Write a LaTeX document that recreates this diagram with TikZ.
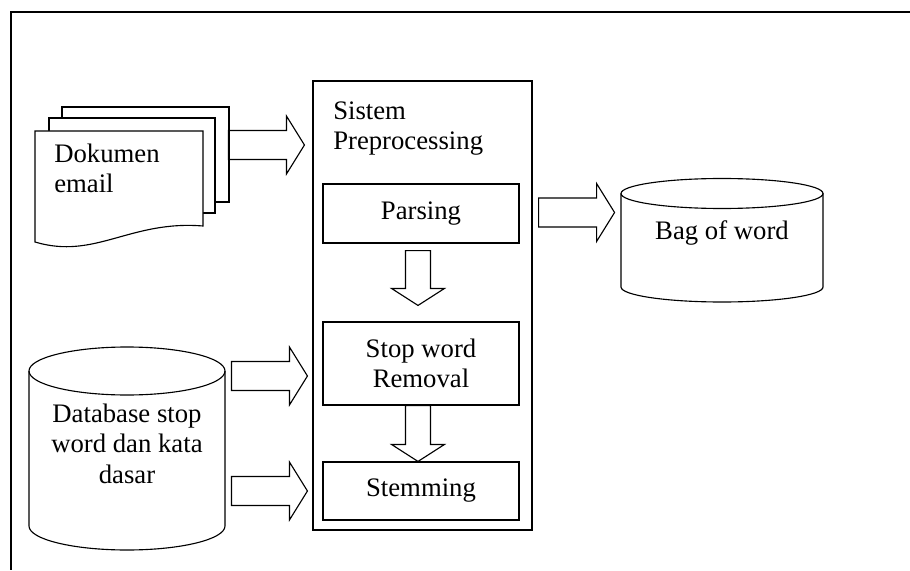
\documentclass[tikz,border=0pt]{standalone}
\usepackage{fontspec}
\setmainfont{Liberation Serif}
\usetikzlibrary{calc, positioning}

\tikzset{
  procbox/.style={draw, line width=0.8pt, minimum width=4.9cm, inner sep=0pt},
  sheet/.style={draw, fill=white, line width=0.8pt, minimum width=4.15cm, minimum height=2.375cm, inner sep=0pt},
  cyl/.style={draw, line width=0.8pt},
  % 空心箭头（水平）
  harrow/.style={to path={
    ([shift={(0,0.3625)}]\tikztostart) -- ([shift={(-0.45,0.3625)}]\tikztotarget)
    -- ([shift={(-0.45,0.725)}]\tikztotarget) -- (\tikztotarget)
    -- ([shift={(-0.45,-0.725)}]\tikztotarget) -- ([shift={(-0.45,-0.3625)}]\tikztotarget)
    -- ([shift={(0,-0.3625)}]\tikztostart) -- cycle}},
  % 空心箭头（竖直向下）
  varrow/.style={to path={
    ([shift={(-0.3125,0)}]\tikztostart) -- ([shift={(-0.3125,0.425)}]\tikztotarget)
    -- ([shift={(-0.6625,0.425)}]\tikztotarget) -- (\tikztotarget)
    -- ([shift={(0.6625,0.425)}]\tikztotarget) -- ([shift={(0.3125,0.425)}]\tikztotarget)
    -- ([shift={(0.3125,0)}]\tikztostart) -- cycle}}
}

\begin{document}
\begin{tikzpicture}[every node/.style={font=\fontsize{19}{21.5}\selectfont}]
  \useasboundingbox (0,0) rectangle (22.75,14.25);

  % 外框（只有上边和左边）
  \draw[line width=0.9pt] (22.75,13.95) -- (0.275,13.95) -- (0.275,0);

  % 文档堆叠
  \node[sheet, minimum width=4.175cm] (docback) at (3.6375,10.3875) {};
  \node[sheet] (docmid) at (3.3,10.1125) {};
  \draw[line width=0.8pt, fill=white] (0.875,10.975) -- (5.075,10.975) -- (5.075,8.6)
    .. controls (3.25,8.75) and (2.375,7.75) .. (0.875,8.2) -- cycle;
  \node[anchor=base west, align=left, inner sep=0pt] (doc) at (1.35,9.425) {Dokumen\\email};

  % 数据库
  \draw[cyl, fill=white] (0.725,4.975) -- (0.725,1.1)
    arc[start angle=180, end angle=360, x radius=2.45, y radius=0.6] -- (5.625,4.975);
  \draw[cyl] (3.175,4.975) ellipse[x radius=2.45, y radius=0.6];
  \node[anchor=base, align=center, inner sep=0pt] (db) at (3.175,2.175) {Database stop\\word dan kata\\dasar};

  % 预处理系统
  \node[draw, line width=0.8pt, minimum width=5.475cm, minimum height=11.225cm, inner sep=0pt] (sys) at (10.5625,6.6125) {};
  \node[anchor=base west, align=left, inner sep=0pt] (systitle) at (8.325,10.5) {Sistem\\Preprocessing};
  \node[procbox, minimum height=1.475cm] (parsing) at (10.525,8.9125) {Parsing};
  \node[procbox, minimum height=2.075cm, align=center] (stopword) at (10.525,5.1625) {Stop word\\Removal};
  \node[procbox, minimum height=1.45cm] (stemming) at (10.525,1.975) {Stemming};

  % Bag of word
  \draw[cyl] (15.525,9.4125) -- (15.525,7.075)
    arc[start angle=180, end angle=360, x radius=2.525, y radius=0.375] -- (20.575,9.4125);
  \draw[cyl] (18.05,9.4125) ellipse[x radius=2.525, y radius=0.375];
  \node[anchor=base, inner sep=0pt] (bag) at (18.05,8.275) {Bag of word};

  % 箭头
  \draw[line width=0.8pt] ($(sys.west)+(-2.1,4.0125)$) to[harrow] ($(sys.west)+(-0.2,4.0125)$);
  \draw[line width=0.8pt] ($(stopword.west)+(-2.275,-0.3125)$) to[harrow] ($(stopword.west)+(-0.375,-0.3125)$);
  \draw[line width=0.8pt] ($(stemming.west)+(-2.275,0)$) to[harrow] ($(stemming.west)+(-0.375,0)$);
  \draw[line width=0.8pt] ($(parsing.east)+(0.475,0.025)$) to[harrow] ($(parsing.east)+(2.375,0.025)$);
  \draw[line width=0.8pt] ($(parsing.south)+(-0.075,-0.175)$) to[varrow] ($(stopword.north)+(-0.075,0.4)$);
  \draw[line width=0.8pt] ($(stopword.south)+(-0.075,0)$) to[varrow] ($(stemming.north)+(-0.075,0)$);
\end{tikzpicture}
\end{document}
